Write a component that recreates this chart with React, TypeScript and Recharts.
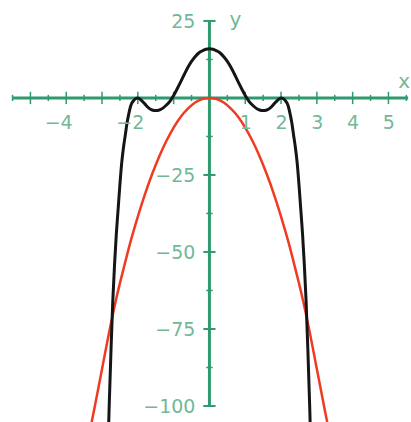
import { LineChart, Line, XAxis, YAxis, ReferenceLine, ReferenceDot } from "recharts";

// x tick positions and labels (only the labels that show in the picture)
const xMajorTicks = [-5, -4, -3, -2, -1, 1, 2, 3, 4, 5];
const xMinorTicks = [-5.5, -4.5, -3.5, -2.5, -1.5, -0.5, 0.5, 1.5, 2.5, 3.5, 4.5, 5.5];
const xLabelPos = [-4, -2, 1, 2, 3, 4, 5];
const xLabels = ["−4", "−2", "1", "2", "3", "4", "5"];

const yMajorTicks = [25, -25, -50, -75, -100];
const yMinorTicks = [12.5, -12.5, -37.5, -62.5, -87.5];
const yLabels = ["25", "−25", "−50", "−75", "−100"];

// black curve
const blackX = [
  -2.86, -2.8, -2.75, -2.7, -2.65, -2.6, -2.55, -2.5, -2.45, -2.4, -2.35, -2.3, -2.25, -2.2, -2.1,
  -2.0, -1.9, -1.8, -1.7, -1.6, -1.5, -1.4, -1.3, -1.2, -1.1, -1.0, -0.9, -0.8, -0.7, -0.6, -0.5,
  -0.4, -0.3, -0.2, -0.1, 0, 0.1, 0.2, 0.3, 0.4, 0.5, 0.6, 0.7, 0.8, 0.9, 1.0, 1.1, 1.2, 1.3, 1.4,
  1.5, 1.6, 1.7, 1.8, 1.9, 2.0, 2.1, 2.2, 2.25, 2.3, 2.35, 2.4, 2.45, 2.5, 2.55, 2.6, 2.65, 2.7,
  2.75, 2.8, 2.86,
];
const blackY = [
  -125, -100, -82, -66, -54, -44, -36, -28, -21, -16, -12, -8, -5, -2.6, -0.6,
  0, -0.8, -2, -3.2, -3.9, -4.1, -3.9, -3.3, -2.3, -1, 0.8, 3, 5.3, 7.7, 10, 11.9,
  13.4, 14.6, 15.3, 15.8, 16, 15.8, 15.3, 14.6, 13.4, 11.9, 10, 7.7, 5.3, 3, 0.8, -1, -2.3, -3.3, -3.9,
  -4.1, -3.9, -3.2, -2, -0.8, 0, -0.6, -2.6, -5, -8, -12, -16, -21, -28, -36, -44, -54, -66,
  -82, -100, -125,
];

// red parabola
const redX = [-3.6, -3.4, -3.2, -3.0, -2.8, -2.6, -2.4, -2.2, -2.0, -1.8, -1.6, -1.4, -1.2, -1.0, -0.8, -0.6, -0.4, -0.2, 0,
  0.2, 0.4, 0.6, 0.8, 1.0, 1.2, 1.4, 1.6, 1.8, 2.0, 2.2, 2.4, 2.6, 2.8, 3.0, 3.2, 3.4, 3.6];
const redY = [-126, -112, -100, -88, -76, -65, -55.5, -46.5, -38.5, -31.2, -24.7, -18.9, -13.9, -9.6, -6.1, -3.5, -1.5, -0.4, 0,
  -0.4, -1.5, -3.5, -6.1, -9.6, -13.9, -18.9, -24.7, -31.2, -38.5, -46.5, -55.5, -65, -76, -88, -100, -112, -126];

const blackData = blackX.map((x, i) => ({ x, y: blackY[i] }));
const redData = redX.map((x, i) => ({ x, y: redY[i] }));

const AXIS = "#2f9a70";
const TEXT = "#72b896";
const FONT = "'DejaVu Sans', sans-serif";

export default function App() {
  return (
    <div style={{ position: "absolute", left: 0, top: 0, background: "#fff" }}>
      <LineChart width={411} height={422} margin={{ top: 0, right: 0, bottom: 0, left: 0 }}>
        <XAxis type="number" dataKey="x" domain={[-5.85, 5.63]} allowDataOverflow hide />
        <YAxis type="number" dataKey="y" domain={[-105.2, 31.8]} allowDataOverflow hide />

        {/* axes through the origin */}
        <ReferenceLine segment={[{ x: -5.5, y: 0 }, { x: 5.55, y: 0 }]} stroke={AXIS} strokeWidth={3} />
        <ReferenceLine segment={[{ x: 0, y: 25 }, { x: 0, y: -100 }]} stroke={AXIS} strokeWidth={3} />

        {xMajorTicks.map((t) => (
          <ReferenceLine key={"xM" + t} segment={[{ x: t, y: -2 }, { x: t, y: 2 }]} stroke={AXIS} strokeWidth={1.5} />
        ))}
        {xMinorTicks.map((t) => (
          <ReferenceLine key={"xm" + t} segment={[{ x: t, y: -1 }, { x: t, y: 1 }]} stroke={AXIS} strokeWidth={1.5} />
        ))}
        {yMajorTicks.map((t) => (
          <ReferenceLine key={"yM" + t} segment={[{ x: -0.17, y: t }, { x: 0.17, y: t }]} stroke={AXIS} strokeWidth={2} />
        ))}
        {yMinorTicks.map((t) => (
          <ReferenceLine key={"ym" + t} segment={[{ x: -0.09, y: t }, { x: 0.09, y: t }]} stroke={AXIS} strokeWidth={1.5} />
        ))}

        {xLabelPos.map((t, i) => (
          <ReferenceDot
            key={"xl" + t}
            x={t}
            y={0}
            r={0}
            shape={(p: any) => (
              <text x={p.cx + 6.5} y={p.cy + 31} textAnchor="end" fill={TEXT} fontSize={19} fontFamily={FONT}>
                {xLabels[i]}
              </text>
            )}
          />
        ))}
        {yMajorTicks.map((t, i) => (
          <ReferenceDot
            key={"yl" + t}
            x={0}
            y={t}
            r={0}
            shape={(p: any) => (
              <text x={p.cx - 14} y={p.cy + 7} textAnchor="end" fill={TEXT} fontSize={19} fontFamily={FONT}>
                {yLabels[i]}
              </text>
            )}
          />
        ))}
        <ReferenceDot
          x={0}
          y={25}
          r={0}
          shape={(p: any) => (
            <text x={p.cx + 26} y={p.cy + 5} textAnchor="middle" fill={TEXT} fontSize={20} fontFamily={FONT}>
              y
            </text>
          )}
        />
        <ReferenceDot
          x={5.55}
          y={0}
          r={0}
          shape={(p: any) => (
            <text x={p.cx - 4} y={p.cy - 10} textAnchor="middle" fill={TEXT} fontSize={20} fontFamily={FONT}>
              x
            </text>
          )}
        />

        <Line data={redData} dataKey="y" type="monotone" stroke="#f03a22" strokeWidth={2.5} dot={false} isAnimationActive={false} />
        <Line data={blackData} dataKey="y" type="monotone" stroke="#151515" strokeWidth={3} dot={false} isAnimationActive={false} />
      </LineChart>
    </div>
  );
}
